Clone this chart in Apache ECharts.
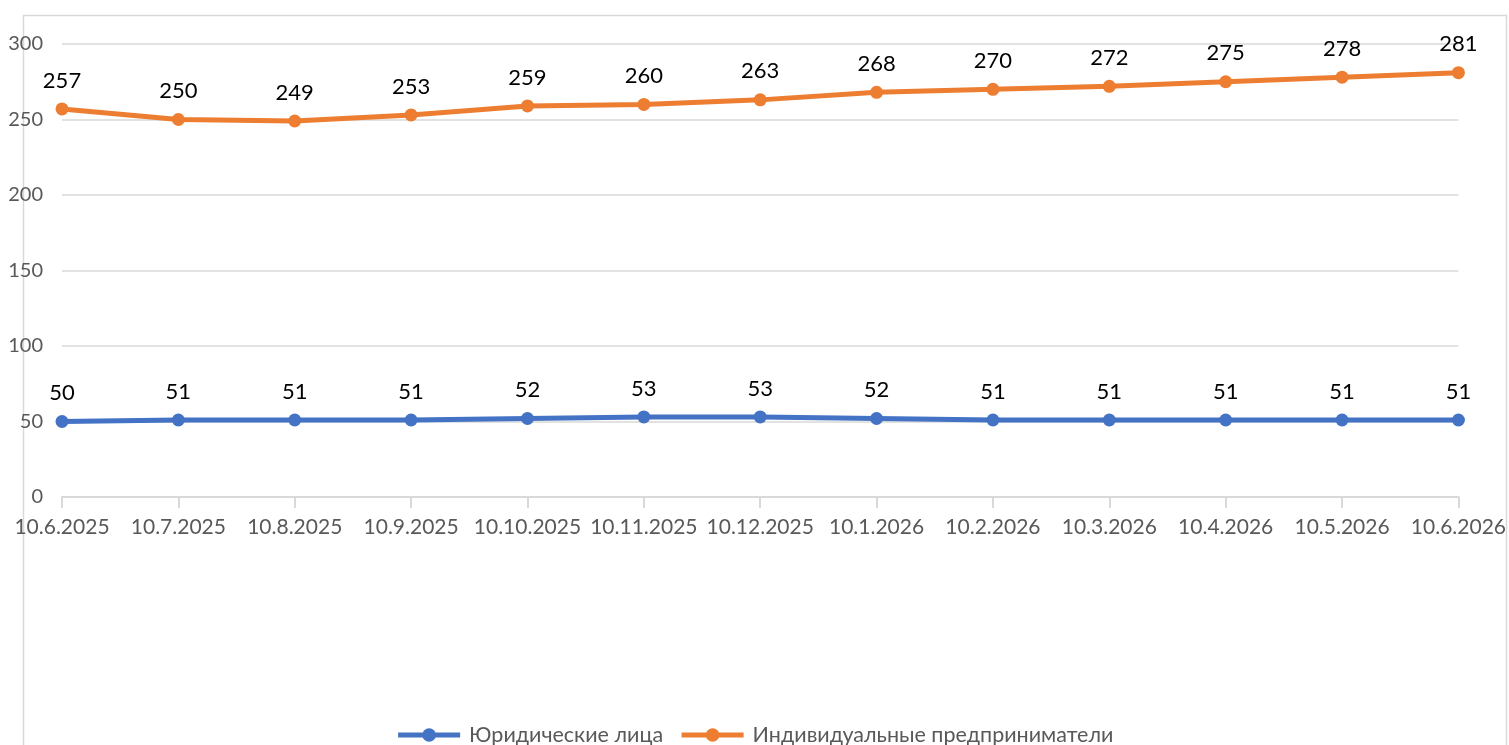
<!DOCTYPE html>
<html><head><meta charset="utf-8">
<script src="https://cdn.jsdelivr.net/npm/echarts@6/dist/echarts.min.js"></script>
<style>html,body{margin:0;padding:0;background:#fff}#c{width:1509px;height:745px}</style>
</head><body><div id="c"></div>
<script>
const categories = ['10.6.2025','10.7.2025','10.8.2025','10.9.2025','10.10.2025','10.11.2025','10.12.2025','10.1.2026','10.2.2026','10.3.2026','10.4.2026','10.5.2026','10.6.2026'];
const legalEntities = [50,51,51,51,52,53,53,52,51,51,51,51,51];
const entrepreneurs = [257,250,249,253,259,260,263,268,270,272,275,278,281];
const seriesNames = ['Юридические лица','Индивидуальные предприниматели'];

const chart = echarts.init(document.getElementById('c'), null, {renderer:'canvas'});
const font = 'Lato';
function lineSeries(name, data, color){
  return {
    name, type:'line', data, color,
    symbol:'circle', symbolSize:13,
    lineStyle:{width:5, color},
    itemStyle:{color},
    label:{show:true, position:'top', distance:11, color:'#000', fontFamily:font, fontSize:22},
    animation:false
  };
}
chart.setOption({
  backgroundColor:'#fff',
  animation:false,
  graphic:[{type:'rect', shape:{x:23.5,y:15.5,width:1483,height:760}, style:{fill:'none', stroke:'#d9d9d9', lineWidth:1.5}, silent:true, z:-1}],
  grid:{left:62, right:48, top:44, bottom:248, containLabel:false},
  legend:{
    top:719, left:'center', itemWidth:62, itemHeight:17, itemGap:16,
    lineStyle:{width:5},
    textStyle:{color:'#595959', fontFamily:font, fontSize:21.5, padding:[0,0,0,4]},
    data:seriesNames
  },
  xAxis:{
    type:'category', data:categories, boundaryGap:false,
    axisLine:{lineStyle:{color:'#d9d9d9', width:2}},
    axisTick:{show:true, length:11, lineStyle:{color:'#d9d9d9', width:2}, interval:0},
    axisLabel:{color:'#595959', fontFamily:font, fontSize:21, margin:20, interval:0}
  },
  yAxis:{
    type:'value', min:0, max:300, interval:50,
    axisLine:{show:false}, axisTick:{show:false},
    splitLine:{lineStyle:{color:'#d9d9d9', width:1.5}},
    axisLabel:{color:'#595959', fontFamily:font, fontSize:20, margin:19}
  },
  series:[
    lineSeries(seriesNames[0], legalEntities, '#4472C4'),
    lineSeries(seriesNames[1], entrepreneurs, '#ED7D31')
  ]
});
</script></body></html>
